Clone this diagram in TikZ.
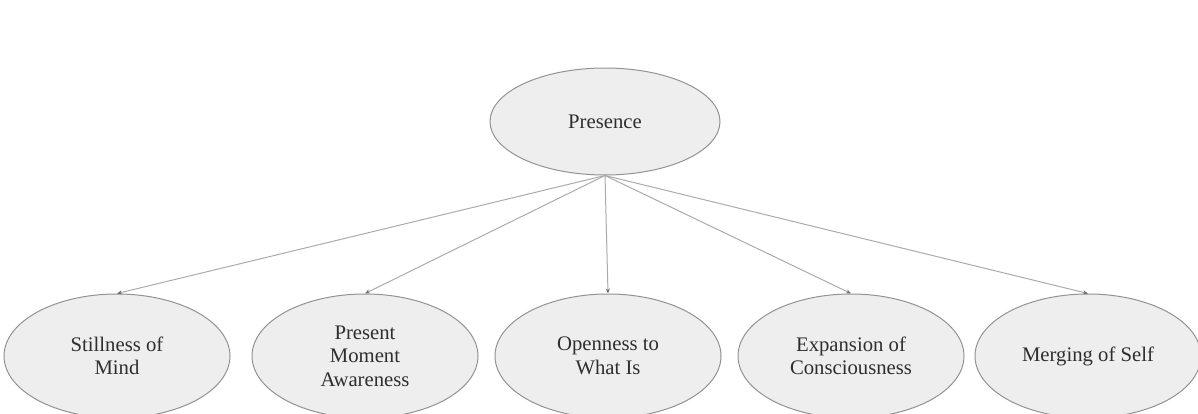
\documentclass[tikz,border=0pt]{standalone}
\usepackage{fontspec}
\setmainfont{Liberation Serif}
\usetikzlibrary{shapes.geometric, arrows.meta}

\definecolor{bubble}{HTML}{EEEEEE}
\definecolor{rim}{HTML}{939393}
\definecolor{edgegray}{HTML}{ABABAB}
\definecolor{ink}{HTML}{2E2E2E}

\begin{document}
\begin{tikzpicture}[x=1pt, y=1pt,
        root/.style = {draw=rim, fill=bubble, ellipse, line width=1pt, inner sep=0pt,
                minimum width=230pt, minimum height=107pt, text=ink,
                font=\fontsize{20.7}{23.5}\selectfont},
        leaf/.style = {root, minimum width=226pt, minimum height=124pt, align=center},
        link/.style = {draw=edgegray, line width=1pt, -{Stealth[length=5pt, width=4pt, color=ink!70]}}]
                \useasboundingbox (0, 0) rectangle (1198, 413);

                \node[root] at (605, 291.5) (P) {Presence};

                \node[leaf] at (117, 57) (S) {Stillness of\\Mind};
                \node[leaf] at (365, 57) (M) {Present\\Moment\\Awareness};
                \node[leaf] at (608, 57) (O) {Openness to\\What Is};
                \node[leaf] at (851, 57) (E) {Expansion of\\Consciousness};
                \node[leaf] at (1088, 57) (G) {Merging of Self};

                \draw [link] (P.south) -- (S.north);
                \draw [link] (P.south) -- (M.north);
                \draw [link] (P.south) -- (O.north);
                \draw [link] (P.south) -- (E.north);
                \draw [link] (P.south) -- (G.north);
            \end{tikzpicture}
\end{document}
